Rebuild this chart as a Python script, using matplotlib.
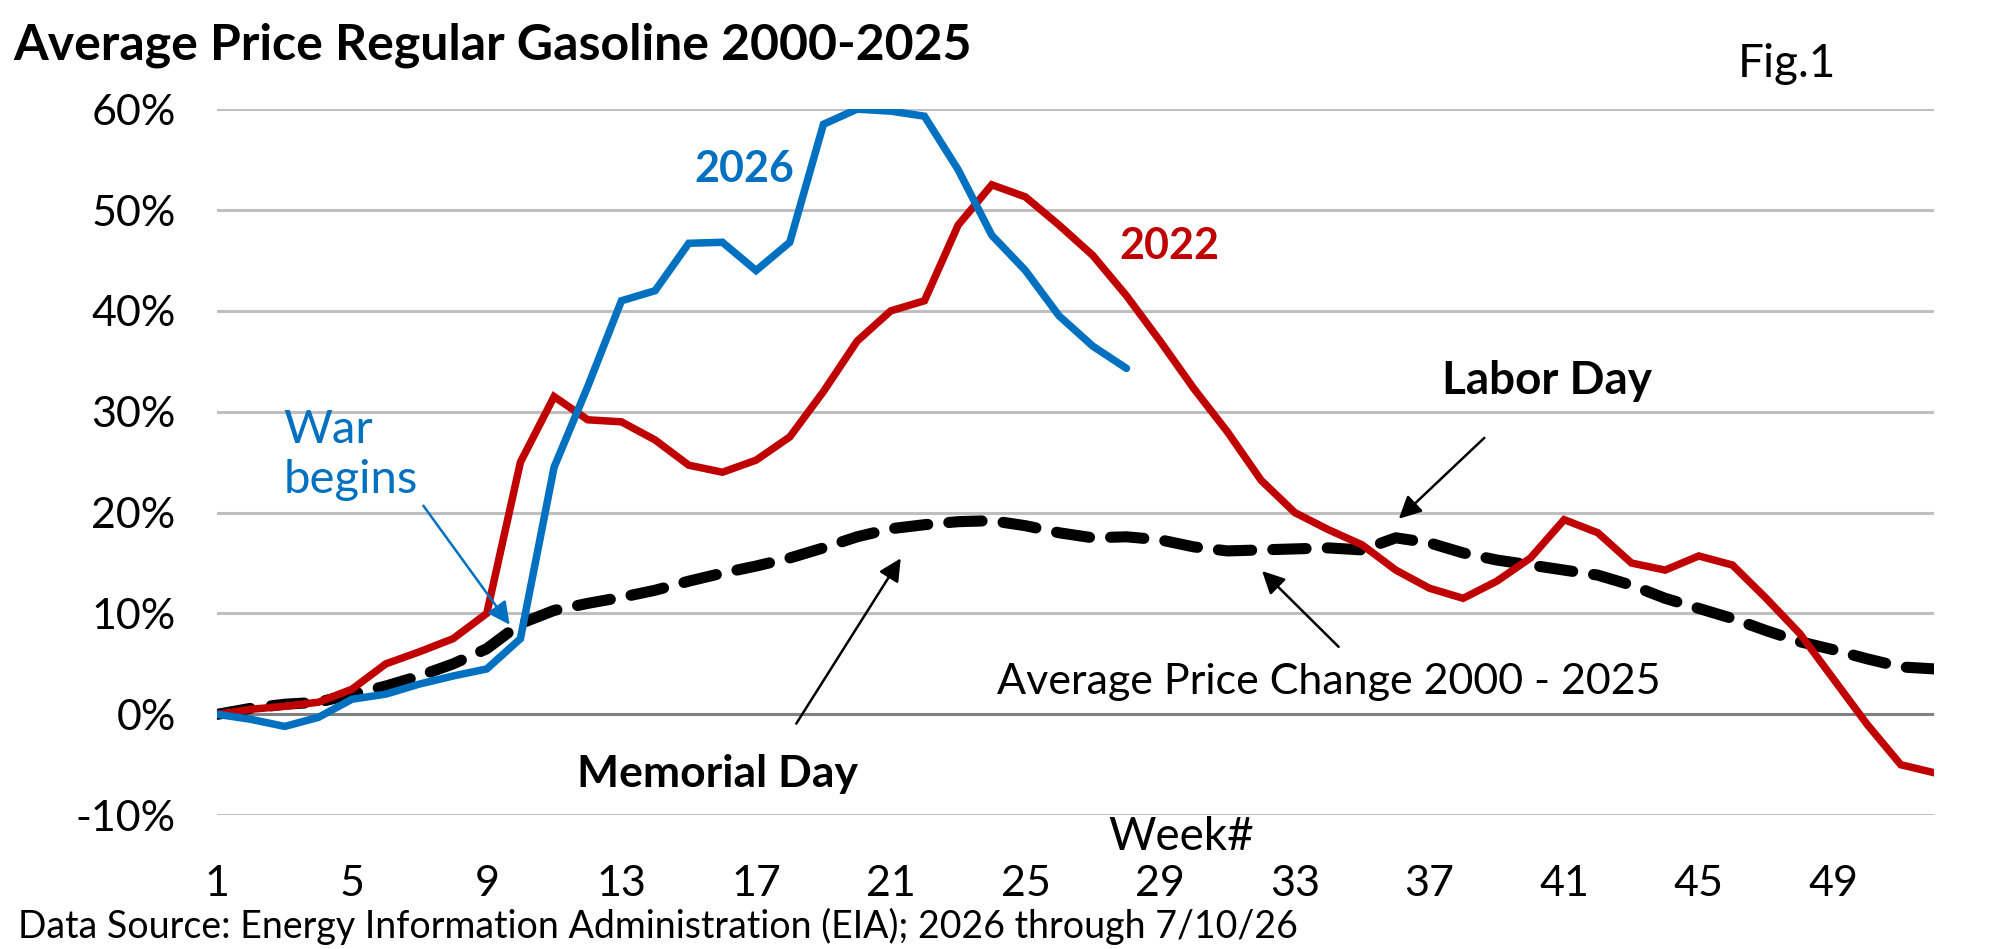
import matplotlib
matplotlib.use("Agg")
import matplotlib.pyplot as plt
import numpy as np

plt.rcParams['font.family'] = ['Lato', 'DejaVu Sans']

# Data: percent change from week 1
weeks = np.arange(1, 53)
avg_2000_2025 = [0, 0.6, 1.0, 1.2, 2.0, 2.8, 3.8, 5.0, 6.5, 9.0,
                 10.3, 11.0, 11.6, 12.3, 13.2, 14.0, 14.7, 15.5, 16.5, 17.6,
                 18.4, 18.8, 19.1, 19.2, 18.7, 18.0, 17.5, 17.6, 17.3, 16.6,
                 16.2, 16.3, 16.4, 16.5, 16.3, 17.5, 17.0, 16.0, 15.3, 14.8,
                 14.3, 13.8, 12.8, 11.5, 10.5, 9.5, 8.3, 7.2, 6.4, 5.5,
                 4.7, 4.5]
y2022 = [0, 0.5, 0.8, 1.2, 2.5, 5.0, 6.2, 7.5, 10.0, 25.0,
         31.5, 29.2, 29.0, 27.2, 24.7, 24.0, 25.2, 27.5, 32.0, 37.0,
         40.0, 41.0, 48.5, 52.5, 51.3, 48.5, 45.5, 41.5, 37.0, 32.3,
         28.0, 23.2, 20.0, 18.3, 16.8, 14.3, 12.5, 11.5, 13.2, 15.5,
         19.3, 18.0, 15.0, 14.3, 15.7, 14.8, 11.5, 8.0, 3.5, -1.0,
         -5.0, -5.8]
y2026 = [0, -0.5, -1.2, -0.3, 1.5, 2.0, 3.0, 3.8, 4.5, 7.5,
         24.5, 32.5, 41.0, 42.0, 46.7, 46.8, 44.0, 46.8, 58.5, 60.0,
         59.8, 59.3, 54.0, 47.5, 44.0, 39.5, 36.5, 34.3]

xticks = [1, 5, 9, 13, 17, 21, 25, 29, 33, 37, 41, 45, 49]
yticks = [-10, 0, 10, 20, 30, 40, 50, 60]

RED = '#C00000'
BLUE = '#0070C0'

fig = plt.figure(figsize=(20.13, 9.49), dpi=100)
ax = fig.add_axes([0.108, 0.141, 0.853, 0.744])

for v in yticks:
    ax.axhline(v, color='#808080' if v == 0 else '#BFBFBF', lw=2.2, zorder=0)

ax.plot(weeks, avg_2000_2025, color='black', lw=8, ls=(0, (3.0, 1.9)),
        dash_capstyle='round', zorder=2)
ax.plot(weeks, y2022, color=RED, lw=5.4, solid_joinstyle='miter', zorder=3)
ax.plot(weeks[:len(y2026)], y2026, color=BLUE, lw=5.4, solid_capstyle='round',
        solid_joinstyle='miter', zorder=4)

ax.set_xlim(1, 52)
ax.set_ylim(-10, 60)
ax.set_xticks(xticks)
ax.set_yticks(yticks)
ax.set_yticklabels([f'{v}%' for v in yticks])
ax.tick_params(axis='both', length=0, labelsize=31)
ax.tick_params(axis='y', pad=30)
ax.tick_params(axis='x', pad=36)
for s in ax.spines.values():
    s.set_visible(False)

# Series labels
ax.text(16.64, 54.1, '2026', color=BLUE, fontsize=31, fontweight='bold',
        ha='center', va='center')
ax.text(29.27, 46.4, '2022', color=RED, fontsize=31, fontweight='bold',
        ha='center', va='center')

# Annotations with arrows
ax.annotate('', xy=(9.73, 8.66), xytext=(7.07, 20.9),
            arrowprops=dict(arrowstyle='-|>', color=BLUE, lw=1.8, mutation_scale=34))
ax.text(2.97, 25.7, 'War\nbegins', color=BLUE, fontsize=34, ha='left', va='center',
        linespacing=1.25)

ax.annotate('', xy=(21.34, 15.7), xytext=(18.15, -1.15),
            arrowprops=dict(arrowstyle='-|>', color='black', lw=1.8, mutation_scale=34))
ax.text(15.84, -5.9, 'Memorial Day', fontsize=32, fontweight='bold',
        ha='center', va='center')

ax.annotate('', xy=(36.03, 19.2), xytext=(38.69, 27.6),
            arrowprops=dict(arrowstyle='-|>', color='black', lw=1.8, mutation_scale=34))
ax.text(40.5, 33.0, 'Labor Day', fontsize=33, fontweight='bold',
        ha='center', va='center')

ax.annotate('', xy=(31.97, 14.4), xytext=(34.36, 6.5),
            arrowprops=dict(arrowstyle='-|>', color='black', lw=1.8, mutation_scale=34))
ax.text(34.0, 3.2, 'Average Price Change 2000 - 2025', fontsize=31,
        ha='center', va='center')

# Figure texts
fig.text(13 / 2013, 1 - 45 / 949, 'Average Price Regular Gasoline 2000-2025',
         fontsize=36, fontweight='bold', ha='left', va='center')
fig.text(1787 / 2013, 1 - 64 / 949, 'Fig.1', fontsize=33, ha='center', va='center')
fig.text(1181 / 2013, 1 - 837 / 949, 'Week#', fontsize=33, ha='center', va='center')
fig.text(18 / 2013, 1 - 926 / 949,
         'Data Source: Energy Information Administration (EIA); 2026 through 7/10/26',
         fontsize=27, ha='left', va='center')

fig.savefig('out.png', dpi=100)
